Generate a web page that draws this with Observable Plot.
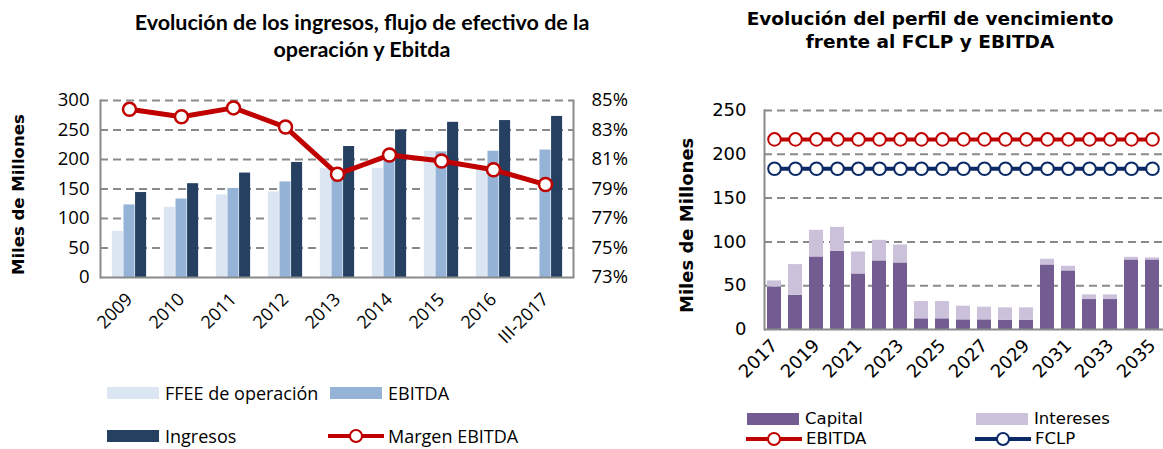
<!DOCTYPE html>
<html><head><meta charset="utf-8">
<script src="https://cdn.jsdelivr.net/npm/d3@7"></script>
<script src="https://cdn.jsdelivr.net/npm/@observablehq/plot@0.6"></script>
<style>
body{margin:0;background:#fff;}
#wrap{position:relative;width:1163px;height:449px;overflow:hidden;background:#fff;}
.abs{position:absolute;white-space:nowrap;}
.t1{font-family:Lato,'Open Sans',sans-serif;font-weight:bold;font-size:21.5px;text-align:center;line-height:27px;color:#000;}
.t2{font-family:'DejaVu Sans',sans-serif;font-weight:bold;font-size:18.5px;text-align:center;line-height:23px;color:#000;}
.yl{font-family:'DejaVu Sans',sans-serif;font-weight:bold;transform-origin:0 0;}
.lg1{font-family:'Open Sans',sans-serif;font-size:18px;line-height:20px;color:#000;display:flex;align-items:center;}
.lg2{font-family:'DejaVu Sans',sans-serif;font-size:16.5px;line-height:16px;color:#000;display:flex;align-items:center;}
</style></head><body><div id="wrap"></div>
<script>
// ---------- Left chart data ----------
const years = ["2009","2010","2011","2012","2013","2014","2015","2016","III-2017"];
const ffee = [78, 119, 140, 145, 185, 185, 214, 185, null];
const ebitda = [123, 133, 151, 162, 178, 203, 213, 214, 216];
const ingresos = [144, 159, 177, 195, 222, 250, 263, 266, 273];
const margen = [84.4, 83.9, 84.5, 83.2, 80.0, 81.3, 80.9, 80.3, 79.3];
const leftTicks = [0, 50, 100, 150, 200, 250, 300];
const pctTicks = [73, 75, 77, 79, 81, 83, 85];

// ---------- Right chart data ----------
const vYears = ["2017","2018","2019","2020","2021","2022","2023","2024","2025","2026","2027","2028","2029","2030","2031","2032","2033","2034","2035"];
const capital = [48.6, 39.1, 82.8, 89.3, 63.4, 78.3, 76.0, 12.2, 12.2, 11.0, 11.0, 10.6, 10.6, 73.7, 66.9, 34.2, 34.2, 79.4, 79.4];
const intereses = [6.9, 35.0, 30.4, 27.3, 25.1, 23.5, 20.5, 19.7, 19.7, 15.6, 14.5, 14.1, 14.1, 6.5, 5.3, 5.3, 5.3, 3.0, 2.3];
const ebitdaR = [217, 217, 217, 217, 217, 217, 217, 217, 217, 217, 217, 217, 217, 217, 217, 217, 217, 217, 217];
const fclp = [183.5, 183.5, 183.5, 183.5, 183.5, 183.5, 183.5, 183.5, 183.5, 183.5, 183.5, 183.5, 183.5, 183.5, 183.5, 183.5, 183.5, 183.5, 183.5];
const rightTicks = [0, 50, 100, 150, 200, 250];

const RED = "#C00000", NAVY = "#0B2A66", GRID = "#8A8A8A", AXIS = "#8A8A8A";
const C_FFEE = "#DCE6F2", C_EBITDA = "#95B3D7", C_ING = "#254061";
const C_CAP = "#725C91", C_INT = "#CCC1DA";

const wrap = document.getElementById("wrap");
function place(el, x, y) { el.style.left = x + "px"; el.style.top = y + "px"; el.classList.add("abs"); wrap.appendChild(el); return el; }

// ---------- Left chart ----------
const tableL = years.map((y, i) => ({year: y, ffee: ffee[i], ebitda: ebitda[i], ingresos: ingresos[i], m: margen[i]}));
const pct = p => (p - 73) * 25; // percent axis (73%..85%) mapped onto the 0..300 y scale
const LW = 640, LH = 370, LML = 100, LMR = 67;
const band = (LW - LML - LMR) / years.length, bw = 11.6;
const ins = o => ({insetLeft: band / 2 + o - bw / 2, insetRight: band / 2 - o - bw / 2});

const left = Plot.plot({
  width: LW, height: LH, marginLeft: LML, marginRight: LMR, marginTop: 100, marginBottom: 93,
  style: {fontFamily: "'Open Sans', sans-serif", fontSize: "18px", color: "#000", background: "transparent", overflow: "visible"},
  x: {domain: years, padding: 0, label: null},
  y: {domain: [0, 300], label: null},
  marks: [
    Plot.ruleY(leftTicks.slice(1), {stroke: GRID, strokeWidth: 2, strokeDasharray: "8,5"}),
    Plot.barY(tableL.filter(d => d.ffee != null), {x: "year", y: "ffee", fill: C_FFEE, ...ins(-bw)}),
    Plot.barY(tableL, {x: "year", y: "ebitda", fill: C_EBITDA, ...ins(0)}),
    Plot.barY(tableL, {x: "year", y: "ingresos", fill: C_ING, ...ins(bw)}),
    Plot.ruleY([0], {stroke: AXIS, strokeWidth: 2}),
    Plot.frame({anchor: "left", stroke: AXIS, strokeWidth: 2}),
    Plot.frame({anchor: "right", stroke: AXIS, strokeWidth: 2}),
    Plot.line(tableL, {x: "year", y: d => pct(d.m), stroke: RED, strokeWidth: 5}),
    Plot.dot(tableL, {x: "year", y: d => pct(d.m), r: 6.5, fill: "white", stroke: RED, strokeWidth: 2.5}),
    Plot.axisY({ticks: leftTicks, tickSize: 0, tickPadding: 11, label: null, fontSize: 18.5}),
    Plot.axisY({anchor: "right", ticks: pctTicks.map(pct), tickFormat: v => Math.round(v / 25 + 73) + "%", tickSize: 0, tickPadding: 18, label: null, fontSize: 18.5}),
    Plot.axisX({tickRotate: -45, tickSize: 0, tickPadding: 19, label: null, fontSize: 18})
  ]
});
place(left, 0, 0);

// ---------- Right chart ----------
const longR = vYears.flatMap((y, i) => [{year: y, type: "Capital", v: capital[i]}, {year: y, type: "Intereses", v: intereses[i]}]);
const linesR = vYears.map((y, i) => ({year: y, e: ebitdaR[i], f: fclp[i]}));
const right = Plot.plot({
  width: 503, height: 400, marginLeft: 104, marginRight: 0, marginTop: 110, marginBottom: 71,
  style: {fontFamily: "'DejaVu Sans', sans-serif", fontSize: "18px", color: "#000", background: "transparent", overflow: "visible"},
  x: {domain: vYears, paddingInner: 0.33, paddingOuter: 0.16, label: null},
  y: {domain: [0, 250], label: null},
  color: {domain: ["Capital", "Intereses"], range: [C_CAP, C_INT]},
  marks: [
    Plot.ruleY(rightTicks.slice(1), {stroke: GRID, strokeWidth: 2, strokeDasharray: "8,5"}),
    Plot.barY(longR, {x: "year", y: "v", fill: "type"}),
    Plot.ruleY([0], {stroke: AXIS, strokeWidth: 2}),
    Plot.frame({anchor: "left", stroke: AXIS, strokeWidth: 2}),
    Plot.line(linesR, {x: "year", y: "e", stroke: RED, strokeWidth: 4}),
    Plot.dot(linesR, {x: "year", y: "e", r: 6.3, fill: "white", stroke: RED, strokeWidth: 2}),
    Plot.line(linesR, {x: "year", y: "f", stroke: NAVY, strokeWidth: 4}),
    Plot.dot(linesR, {x: "year", y: "f", r: 6.3, fill: "white", stroke: NAVY, strokeWidth: 2}),
    Plot.axisY({ticks: rightTicks, tickSize: 0, tickPadding: 18, label: null, fontSize: 18}),
    Plot.axisX({ticks: vYears.filter((d, i) => i % 2 === 0), tickRotate: -45, tickSize: 0, tickPadding: 13, label: null, fontSize: 18})
  ]
});
place(right, 660, 0);

// ---------- Titles ----------
const t1 = document.createElement("div"); t1.className = "t1";
t1.innerHTML = "Evolución de los ingresos, flujo de efectivo de la<br>operación y Ebitda";
t1.style.width = "600px"; place(t1, 62, 9);
const t2 = document.createElement("div"); t2.className = "t2";
t2.innerHTML = "Evolución del perfil de vencimiento<br>frente al FCLP y EBITDA";
t2.style.width = "460px"; place(t2, 700, 7);

// ---------- Y axis titles ----------
function ylabel(text, cx, cy, size) {
  const d = document.createElement("div"); d.className = "yl"; d.textContent = text;
  d.style.fontSize = size + "px"; place(d, 0, 0);
  const w = d.offsetWidth, h = d.offsetHeight;
  d.style.left = (cx - h / 2) + "px"; d.style.top = (cy + w / 2) + "px";
  d.style.transform = "rotate(-90deg)";
}
ylabel("Miles de Millones", 18.5, 194, 16.5);
ylabel("Miles de Millones", 686, 225, 18);

// ---------- Legends ----------
function swatch(color) { return `<svg width="52" height="12" style="margin-right:6px"><rect width="52" height="12" fill="${color}"/></svg>`; }
function lineSw(color) { return `<svg width="56" height="16" style="margin-right:4px"><line x1="0" x2="56" y1="8" y2="8" stroke="${color}" stroke-width="4"/><circle cx="28" cy="8" r="6" fill="white" stroke="${color}" stroke-width="2"/></svg>`; }
function leg(cls, html, x, y) { const d = document.createElement("div"); d.className = cls; d.innerHTML = html; place(d, x, y); d.style.top = (y - d.offsetHeight / 2) + "px"; }
leg("lg1", swatch(C_FFEE) + "FFEE de operación", 107, 393);
leg("lg1", swatch(C_EBITDA) + "EBITDA", 330, 393);
leg("lg1", swatch(C_ING) + "Ingresos", 107, 436);
leg("lg1", lineSw(RED) + "Margen EBITDA", 328, 436);
leg("lg2", swatch(C_CAP) + "Capital", 747, 419);
leg("lg2", swatch(C_INT) + "Intereses", 976, 419);
leg("lg2", lineSw(RED) + "EBITDA", 746, 439);
leg("lg2", lineSw(NAVY) + "FCLP", 975, 439);
</script></body></html>
